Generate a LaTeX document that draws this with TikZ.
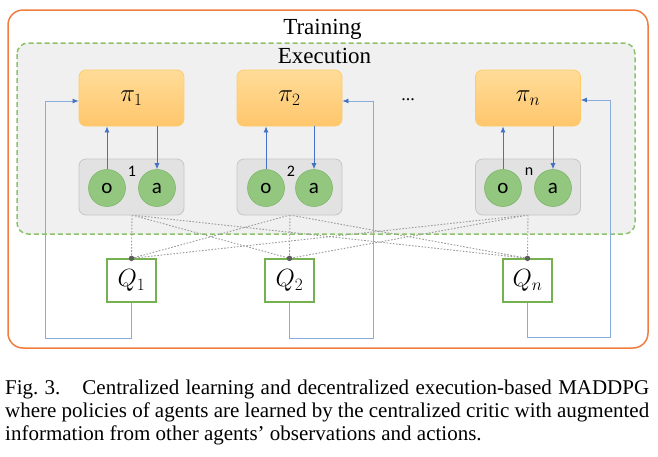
\documentclass[tikz,border=0pt]{standalone}
\usepackage{fontspec}
\setmainfont{Liberation Serif}
\newfontfamily\calfont{Carlito}
\usetikzlibrary{arrows.meta}
\definecolor{orng}{HTML}{F07C3E}
\definecolor{grn}{HTML}{8CC26C}
\definecolor{execfill}{HTML}{F0F0F0}
\definecolor{pitop}{HTML}{FFDC98}
\definecolor{pibot}{HTML}{FFC66C}
\definecolor{piedge}{HTML}{FFCB66}
\definecolor{agfill}{HTML}{E2E2E2}
\definecolor{agedge}{HTML}{C6C6C6}
\definecolor{cfill}{HTML}{93C780}
\definecolor{cedge}{HTML}{7DB868}
\definecolor{qedge}{HTML}{75B150}
\definecolor{arr}{HTML}{4472C4}
\definecolor{fbc}{HTML}{8AABDD}
\definecolor{dotc}{HTML}{9A9A9A}
\definecolor{dotfill}{HTML}{5E5E5E}
\tikzset{
  pibox/.style={draw=piedge, line width=0.8pt, top color=pitop, bottom color=pibot, rounded corners=7pt, minimum width=105pt, minimum height=56pt, inner sep=0pt, font=\fontsize{25}{25}\selectfont},
  agbox/.style={draw=agedge, line width=0.8pt, fill=agfill, rounded corners=7pt, minimum width=105pt, minimum height=56pt, inner sep=0pt},
  circ/.style={circle, draw=cedge, line width=0.6pt, fill=cfill, minimum size=37pt, inner sep=0pt, font=\calfont\fontsize{21}{21}\selectfont},
  numlab/.style={inner sep=0pt, font=\calfont\fontsize{16}{16}\selectfont},
  qbox/.style={draw=qedge, line width=1.3pt, fill=white, minimum width=49pt, minimum height=43pt, inner sep=0pt, font=\fontsize{24}{24}\selectfont},
  uparr/.style={draw=arr, line width=0.8pt, -{Latex[length=6pt,width=5pt]}},
  fbl/.style={draw=fbc, line width=0.8pt, -{Latex[length=6pt,width=5pt,color=arr]}},
  dotl/.style={draw=dotc, line width=0.9pt, dash pattern=on 1.6pt off 1.6pt},
  qdot/.style={circle, fill=dotfill, minimum size=5.5pt, inner sep=0pt},
  title/.style={anchor=base, inner sep=0pt, font=\fontsize{23}{23}\selectfont},
  capline/.style={anchor=base west, inner sep=0pt, font=\fontsize{21}{21}\selectfont}
}
\begin{document}
\begin{tikzpicture}[x=1pt,y=-1pt]
\useasboundingbox (0,0) rectangle (658,456);
% frames
\draw[orng, line width=1.5pt, rounded corners=15pt] (8,10) rectangle (648,348);
\draw[grn, fill=execfill, line width=1.5pt, dash pattern=on 5pt off 3pt, rounded corners=11pt] (17,43) rectangle (635,234);
\node[title] (train) at (322.5,34) {Training};
\node[title] (exec) at (324.5,63) {Execution};
% policies
\node[pibox] (pi1) at (131.5,98) {$\pi_1$};
\node[pibox] (pi2) at (289.5,98) {$\pi_2$};
\node[pibox] (pin) at (528,98) {$\pi_n$};
\node[inner sep=0pt, font=\fontsize{18}{18}\selectfont] (dots) at (408,100) {...};
% Q boxes
\node[qbox] (q1) at (131.5,280.5) {$Q_1$};
\node[qbox] (q2) at (289.5,280.5) {$Q_2$};
\node[qbox] (qn) at (527.5,280.5) {$Q_n$};
% agent boxes (coordinates for dotted lines)
\coordinate (ag1b) at (132,215);
\coordinate (ag2b) at (290,215);
\coordinate (agnb) at (528,215);
\foreach \a in {ag1b,ag2b,agnb}{
  \foreach \q in {q1,q2,qn}{
    \draw[dotl] (\a) -- (\q.north);
  }
}
\node[agbox] (ag1) at (131.5,187) {};
\node[agbox] (ag2) at (289.5,187) {};
\node[agbox] (agn) at (528,187) {};
\node[circ] (o1) at (107,188) {o};
\node[circ] (a1) at (157,188) {a};
\node[circ] (o2) at (266,188) {o};
\node[circ] (a2) at (314,188) {a};
\node[circ] (on) at (503,188) {o};
\node[circ] (an) at (553,188) {a};
\node[numlab] (n1) at (132,171) {1};
\node[numlab] (n2) at (291,171) {2};
\node[numlab] (nn) at (529,172) {n};
% arrows
\draw[uparr] (o1.north) -- (o1.north |- pi1.south);
\draw[uparr] (a1.north |- pi1.south) -- (a1.north);
\draw[uparr] (o2.north) -- (o2.north |- pi2.south);
\draw[uparr] (a2.north |- pi2.south) -- (a2.north);
\draw[uparr] (on.north) -- (on.north |- pin.south);
\draw[uparr] (an.north |- pin.south) -- (an.north);
% dots
\node[qdot] (d1) at (q1.north) {};
\node[qdot] (d2) at (q2.north) {};
\node[qdot] (dn) at (qn.north) {};
% feedback
\coordinate (f1) at (45,338);
\coordinate (f2) at (373,338);
\coordinate (fn) at (610,337);
\draw[fbl] (q1.south) |- (f1) |- ([yshift=-3pt]pi1.west);
\draw[fbl] (q2.south) |- (f2) |- ([yshift=-3pt]pi2.east);
\draw[fbl] (qn.south) |- (fn) |- ([yshift=-2pt]pin.east);
% caption
\node[capline] (cap1) at (5,394) {\hbox to 644pt{Fig.~3.\hspace{22pt}Centralized learning and decentralized execution-based MADDPG}};
\node[capline] (cap2) at (5,417) {\hbox to 644pt{where policies of agents are learned by the centralized critic with augmented}};
\node[capline] (cap3) at (5,440) {information from other agents' observations and actions.};
\end{tikzpicture}
\end{document}
